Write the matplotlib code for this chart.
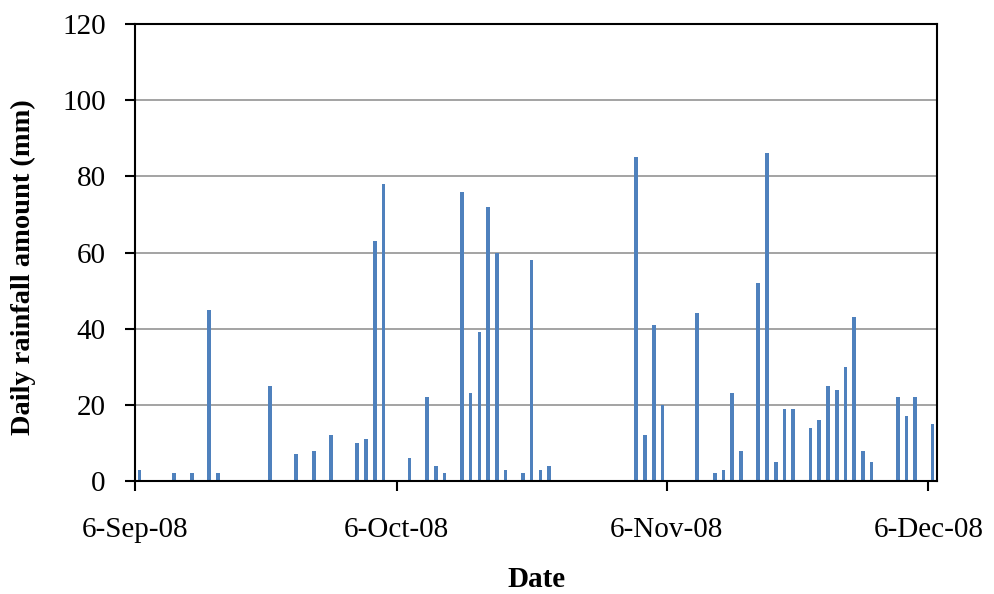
import matplotlib
matplotlib.use("Agg")
import matplotlib.pyplot as plt
import matplotlib.dates as mdates
import pandas as pd

# daily rainfall (mm), only days with rain
rain_dates = [
    "2008-09-06", "2008-09-10", "2008-09-12", "2008-09-14", "2008-09-15",
    "2008-09-21", "2008-09-24", "2008-09-26", "2008-09-28", "2008-10-01",
    "2008-10-02", "2008-10-03", "2008-10-04", "2008-10-07", "2008-10-09",
    "2008-10-10", "2008-10-11", "2008-10-13", "2008-10-14", "2008-10-15",
    "2008-10-16", "2008-10-17", "2008-10-18", "2008-10-20", "2008-10-21",
    "2008-10-22", "2008-10-23", "2008-11-02", "2008-11-03", "2008-11-04",
    "2008-11-05", "2008-11-09", "2008-11-11", "2008-11-12", "2008-11-13",
    "2008-11-14", "2008-11-16", "2008-11-17", "2008-11-18", "2008-11-19",
    "2008-11-20", "2008-11-22", "2008-11-23", "2008-11-24", "2008-11-25",
    "2008-11-26", "2008-11-27", "2008-11-28", "2008-11-29", "2008-12-02",
    "2008-12-03", "2008-12-04", "2008-12-06",
]
rain_mm = [
    3, 2, 2, 45, 2,
    25, 7, 8, 12, 10,
    11, 63, 78, 6, 22,
    4, 2, 76, 23, 39,
    72, 60, 3, 2, 58,
    3, 4, 85, 12, 41,
    20, 44, 2, 3, 23,
    8, 52, 86, 5, 19,
    19, 14, 16, 25, 24,
    30, 43, 8, 5, 22,
    17, 22, 15,
]
tick_dates = ["2008-09-06", "2008-10-06", "2008-11-06", "2008-12-06"]
x_start, x_end = "2008-09-06", "2008-12-07"

plt.rcParams["font.family"] = ["Liberation Serif", "DejaVu Serif"]

fig = plt.figure(figsize=(9.95, 5.94), dpi=100)
ax = fig.add_axes([0.1357, 0.1902, 0.9417 - 0.1357, 0.9596 - 0.1902])

x = pd.to_datetime(rain_dates) + pd.Timedelta(hours=12)
ax.bar(x, rain_mm, width=0.42, color="#4F81BD", zorder=3)

ax.set_xlim(pd.Timestamp(x_start), pd.Timestamp(x_end))
ax.set_ylim(0, 120)
ax.set_yticks(range(0, 121, 20))
ax.set_xticks(pd.to_datetime(tick_dates))
ax.xaxis.set_major_formatter(mdates.DateFormatter("%-d-%b-%y"))

ax.yaxis.grid(True, color="#8a8a8a", linewidth=1.1, zorder=0)
ax.set_axisbelow(True)
for s in ax.spines.values():
    s.set_linewidth(1.5)
    s.set_color("black")
    s.set_zorder(4)

ax.tick_params(axis="y", direction="out", length=7, width=1.5, labelsize=21, pad=14)
ax.tick_params(axis="x", direction="out", length=7, width=1.5, labelsize=21, pad=19)

ax.set_xlabel("Date", fontsize=21, fontweight="bold")
ax.xaxis.label.set_verticalalignment("baseline")
ax.xaxis.set_label_coords(0.5, -0.232)
ax.set_ylabel("Daily rainfall amount (mm)", fontsize=20.5, fontweight="bold")
ax.yaxis.set_label_coords(-0.123, 0.468)

fig.savefig("out.png", dpi=100)
